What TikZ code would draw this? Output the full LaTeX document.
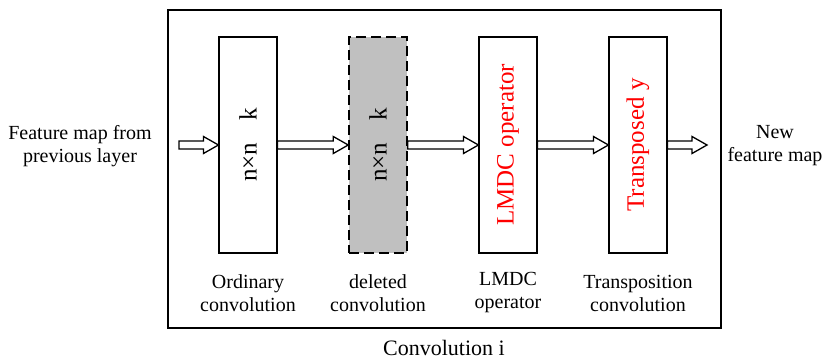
\documentclass[tikz,border=0pt]{standalone}
\usepackage{fontspec}
\setmainfont{Liberation Serif}
\usetikzlibrary{calc}
\definecolor{delgray}{RGB}{192,192,192}
\newcommand\blockarrow[2]{%
  \draw[hollow] let \p1=(#1), \p2=(#2) in
    (\x1,\y1+4pt) -- (\x2-15pt,\y1+4pt) -- (\x2-15pt,\y1+8.5pt) -- (\x2,\y1)
    -- (\x2-15pt,\y1-8.5pt) -- (\x2-15pt,\y1-4pt) -- (\x1,\y1-4pt) -- cycle;}
\begin{document}
\begin{tikzpicture}[x=1pt,y=-1pt,
  frame/.style={draw, line width=1.3pt, minimum width=553pt, minimum height=318pt, inner sep=0pt},
  convbox/.style={draw, line width=1.1pt, minimum width=58pt, minimum height=216pt, inner sep=0pt},
  delbox/.style={convbox, fill=delgray, dash pattern=on 10pt off 5pt, line width=1.5pt},
  boxtext/.style={rotate=90, font=\fontsize{25}{30}\selectfont},
  lbl/.style={align=center, font=\fontsize{20}{23}\selectfont},
  hollow/.style={draw, line width=1.3pt, fill=white, line join=miter}
]
\useasboundingbox (0,0) rectangle (827,361);
\node[frame] (frame) at (444.5,169) {};
\node[convbox] (b1) at (248,145) {};
\node[delbox] (b2) at (378,145) {};
\node[convbox] (b3) at (508,145) {};
\node[convbox] (b4) at (638,145) {};
\node[boxtext] (t1) at (b1.center) {n×n\hspace{22pt}k};
\node[boxtext] (t2) at (b2.center) {n×n\hspace{22pt}k};
\node[boxtext, text=red] (t3) at (b3.center) {LMDC operator};
\node[boxtext, text=red] (t4) at (b4.center) {Transposed y};
\node[lbl] (l1) at (248,293) {Ordinary\\convolution};
\node[lbl] (l2) at (378,293) {deleted\\convolution};
\node[lbl] (l3) at (508,293) {LMDC\\operator};
\node[lbl] (l4) at (638,293) {Transposition\\convolution};
\node[lbl] (inp) at (80,146) {Feature map from\\previous layer};
\node[lbl] (outp) at (775,146) {New\\feature map};
\node[font=\fontsize{22}{26}\selectfont] (cap) at (444,348) {Convolution i};
\coordinate (ain) at (179,145);
\coordinate (aout) at (707,145);
\blockarrow{ain}{b1.west}
\blockarrow{b1.east}{b2.west}
\blockarrow{b2.east}{b3.west}
\blockarrow{b3.east}{b4.west}
\blockarrow{b4.east}{aout}
\end{tikzpicture}
\end{document}
